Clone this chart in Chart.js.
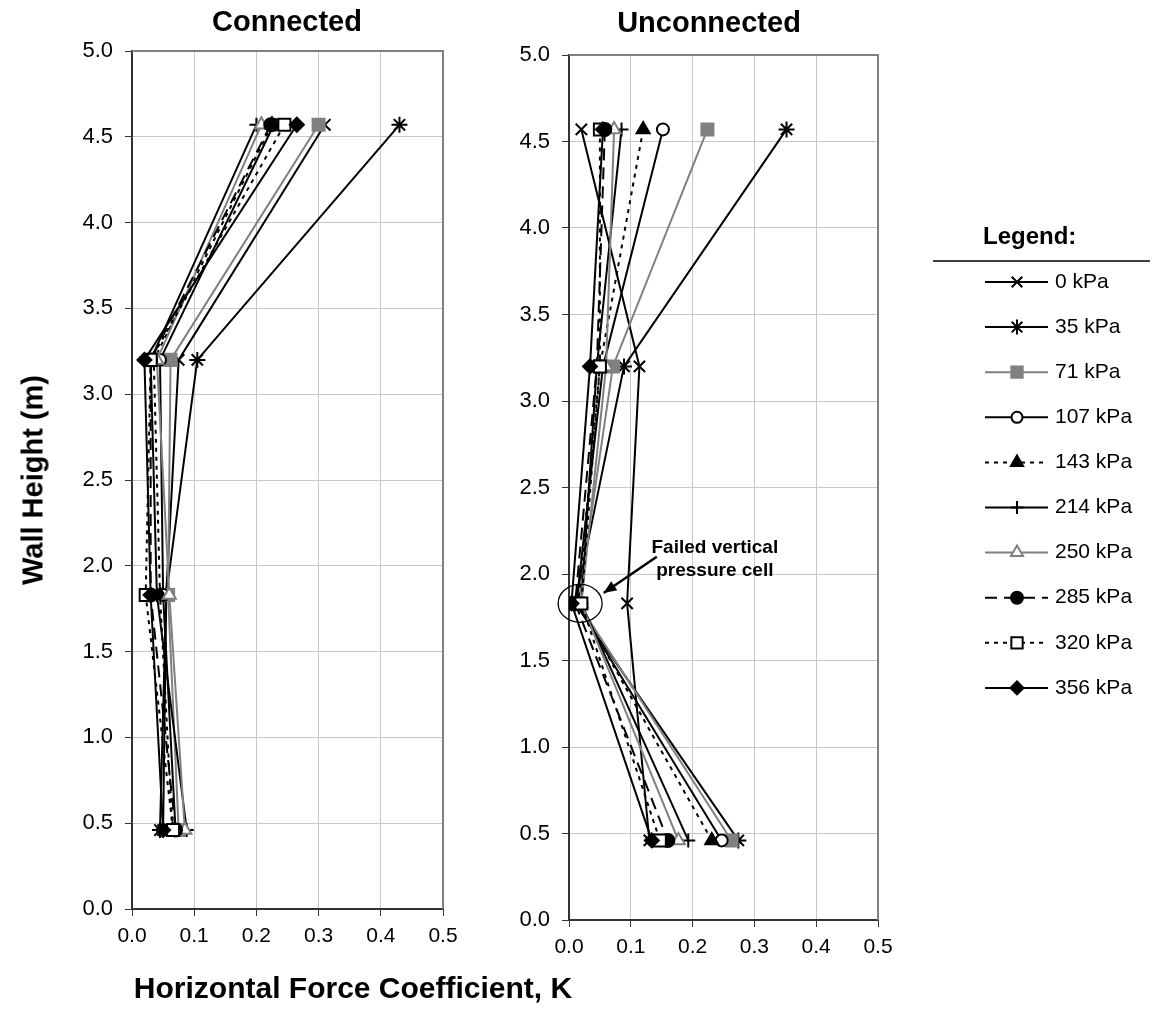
<!DOCTYPE html>
<html>
<head>
<meta charset="utf-8">
<script src="https://cdn.jsdelivr.net/npm/chart.js@4.4.1/dist/chart.umd.min.js"></script>
<style>
  body { margin: 0; background: #fff; }
  #wrap { position: relative; width: 1155px; height: 1021px; overflow: hidden; font-family: "Liberation Sans", Arial, sans-serif; }
  canvas { position: absolute; left: 0; top: 0; }
  .lbl { position: absolute; font-weight: bold; color: #000; white-space: nowrap; transform: translate(-50%, -50%); }
</style>
</head>
<body>
<div id="wrap">
  <canvas id="leftChart" width="1155" height="1021"></canvas>
  <canvas id="rightChart" width="1155" height="1021"></canvas>
  <div class="lbl" style="left:287px; top:21px; font-size:29px;">Connected</div>
  <div class="lbl" style="left:709px; top:22px; font-size:29px;">Unconnected</div>
  <div class="lbl" style="left:33px; top:480px; font-size:29px; transform: translate(-50%, -50%) rotate(-90deg);">Wall Height (m)</div>
  <div class="lbl" style="left:353px; top:988px; font-size:30px;">Horizontal Force Coefficient, K</div>
</div>
<script>
// Wall heights of the pressure cells (m)
const heights = [4.57, 3.2, 1.83, 0.46];
const pressures = ['0 kPa', '35 kPa', '71 kPa', '107 kPa', '143 kPa', '214 kPa', '250 kPa', '285 kPa', '320 kPa', '356 kPa'];

// Connected wall: K at each height
const conn0   = [0.31, 0.075, 0.055, 0.05];
const conn35  = [0.43, 0.105, 0.055, 0.045];
const conn71  = [0.30, 0.062, 0.058, 0.075];
const conn107 = [0.228, 0.045, 0.05, 0.07];
const conn143 = [0.225, 0.035, 0.045, 0.065];
const conn214 = [0.20, 0.03, 0.04, 0.088];
const conn250 = [0.208, 0.04, 0.06, 0.085];
const conn285 = [0.223, 0.03, 0.03, 0.07];
const conn320 = [0.245, 0.03, 0.022, 0.066];
const conn356 = [0.265, 0.02, 0.03, 0.05];

// Unconnected wall: K at each height
const unconn0   = [0.02, 0.114, 0.094, 0.13];
const unconn35  = [0.352, 0.089, 0.01, 0.274];
const unconn71  = [0.224, 0.071, 0.015, 0.263];
const unconn107 = [0.152, 0.055, 0.012, 0.247];
const unconn143 = [0.12, 0.05, 0.015, 0.231];
const unconn214 = [0.085, 0.045, 0.02, 0.193];
const unconn250 = [0.073, 0.06, 0.02, 0.177];
const unconn285 = [0.058, 0.045, 0.01, 0.16];
const unconn320 = [0.05, 0.05, 0.02, 0.147];
const unconn356 = [0.055, 0.034, 0.004, 0.134];

const xTicks = [0, 0.1, 0.2, 0.3, 0.4, 0.5];

// line / marker look for each pressure
const styles = [
  { color: '#000', dash: [], point: 'crossRot', r: 8, fill: '#000' },
  { color: '#000', dash: [], point: 'star', r: 8, fill: '#000' },
  { color: '#808080', dash: [], point: 'rect', r: 8.5, fill: '#808080' },
  { color: '#000', dash: [], point: 'circle', r: 6, fill: '#fff' },
  { color: '#000', dash: [4, 5], point: 'triangle', r: 7.5, fill: '#000' },
  { color: '#000', dash: [], point: 'cross', r: 7, fill: '#000' },
  { color: '#808080', dash: [], point: 'triangle', r: 7.5, fill: '#fff' },
  { color: '#000', dash: [12, 7], point: 'circle', r: 6.5, fill: '#000' },
  { color: '#000', dash: [4, 5], point: 'rect', r: 8.5, fill: '#fff' },
  { color: '#000', dash: [], point: 'rectRot', r: 7, fill: '#000' }
];

const connected = [conn0, conn35, conn71, conn107, conn143, conn214, conn250, conn285, conn320, conn356];
const unconnected = [unconn0, unconn35, unconn71, unconn107, unconn143, unconn214, unconn250, unconn285, unconn320, unconn356];

function makeDatasets(series) {
  return series.map((vals, i) => {
    const s = styles[i];
    return {
      label: pressures[i],
      data: vals.map((v, j) => ({ x: v, y: heights[j] })),
      showLine: true,
      order: series.length - i,
      borderColor: s.color,
      backgroundColor: s.fill,
      borderWidth: 2,
      borderDash: s.dash,
      pointStyle: s.point,
      pointRadius: s.r,
      pointBorderColor: s.color,
      pointBackgroundColor: s.fill,
      pointBorderWidth: 2,
      tension: 0
    };
  });
}

const frame = {
  id: 'frame',
  afterDraw(chart) {
    const a = chart.chartArea, ctx = chart.ctx;
    ctx.save();
    ctx.strokeStyle = '#808080';
    ctx.lineWidth = 2;
    ctx.beginPath();
    ctx.moveTo(a.left, a.top);
    ctx.lineTo(a.right, a.top);
    ctx.lineTo(a.right, a.bottom);
    ctx.stroke();
    ctx.restore();
  }
};

function axes(yW, xH) {
  return {
    x: {
      type: 'linear', min: 0, max: 0.5,
      afterBuildTicks: s => { s.ticks = xTicks.map(v => ({ value: v })); },
      afterFit: s => { s.height = xH; },
      ticks: { color: '#000', font: { size: 21, family: 'Liberation Sans' }, padding: 8, callback: v => v.toFixed(1), maxRotation: 0 },
      grid: { color: '#c8c8c8', lineWidth: 1, tickColor: '#333', tickLength: 7 },
      border: { color: '#333', width: 2 }
    },
    y: {
      type: 'linear', min: 0, max: 5,
      ticks: { stepSize: 0.5, color: '#000', font: { size: 22, family: 'Liberation Sans' }, padding: 12, callback: v => v.toFixed(1) },
      afterFit: s => { s.width = yW; },
      grid: { color: '#c8c8c8', lineWidth: 1, tickColor: '#333', tickLength: 7 },
      border: { color: '#333', width: 2 }
    }
  };
}

// Left chart: Connected
new Chart(document.getElementById('leftChart').getContext('2d'), {
  type: 'scatter',
  data: { datasets: makeDatasets(connected) },
  options: {
    responsive: false, animation: false,
    layout: { padding: { left: 72, right: 1155 - 443, top: 51, bottom: 0 } },
    scales: axes(60, 1021 - 909),
    plugins: { legend: { display: false }, tooltip: { enabled: false } }
  },
  plugins: [frame]
});

// legend and annotation drawn on the right chart
const extras = {
  id: 'extras',
  afterDraw(chart) {
    const ctx = chart.ctx;
    const xs = chart.scales.x, ys = chart.scales.y;
    ctx.save();
    // annotation: failed cell
    const cx = xs.getPixelForValue(0.018), cy = ys.getPixelForValue(1.83);
    ctx.strokeStyle = '#000';
    ctx.lineWidth = 1.3;
    ctx.setLineDash([]);
    ctx.beginPath();
    ctx.ellipse(cx, cy, 22, 19, 0, 0, Math.PI * 2);
    ctx.stroke();
    const ax0 = xs.getPixelForValue(0.142), ay0 = ys.getPixelForValue(2.10);
    const ax1 = xs.getPixelForValue(0.056), ay1 = ys.getPixelForValue(1.89);
    ctx.lineWidth = 2.5;
    ctx.beginPath(); ctx.moveTo(ax0, ay0); ctx.lineTo(ax1, ay1); ctx.stroke();
    const ang = Math.atan2(ay1 - ay0, ax1 - ax0);
    ctx.beginPath();
    ctx.moveTo(ax1, ay1);
    ctx.lineTo(ax1 - 14 * Math.cos(ang - 0.4), ay1 - 14 * Math.sin(ang - 0.4));
    ctx.lineTo(ax1 - 14 * Math.cos(ang + 0.4), ay1 - 14 * Math.sin(ang + 0.4));
    ctx.closePath(); ctx.fillStyle = '#000'; ctx.fill();
    ctx.font = 'bold 19px "Liberation Sans", Arial';
    ctx.textAlign = 'center'; ctx.textBaseline = 'middle';
    const tx = xs.getPixelForValue(0.236);
    ctx.fillText('Failed vertical', tx, ys.getPixelForValue(2.15));
    ctx.fillText('pressure cell', tx, ys.getPixelForValue(2.02));

    // legend
    ctx.font = 'bold 24px "Liberation Sans", Arial';
    ctx.textAlign = 'left';
    ctx.fillText('Legend:', 983, 237);
    ctx.lineWidth = 1.5;
    ctx.beginPath(); ctx.moveTo(933, 261); ctx.lineTo(1150, 261); ctx.stroke();
    ctx.font = '21px "Liberation Sans", Arial';
    chart.data.datasets.forEach((ds, i) => {
      const y = 282 + i * 45.1;
      ctx.strokeStyle = ds.borderColor;
      ctx.lineWidth = ds.borderWidth;
      ctx.setLineDash(ds.borderDash);
      ctx.beginPath(); ctx.moveTo(985, y); ctx.lineTo(1048, y); ctx.stroke();
      ctx.setLineDash([]);
      ctx.fillStyle = ds.pointBackgroundColor;
      ctx.lineWidth = ds.pointBorderWidth;
      Chart.helpers.drawPoint(ctx, { pointStyle: ds.pointStyle, radius: ds.pointRadius - 0.5, rotation: 0, borderWidth: ds.pointBorderWidth }, 1017, y);
      ctx.fillStyle = '#000';
      ctx.fillText(ds.label, 1055, y);
    });
    ctx.restore();
  }
};

// Right chart: Unconnected
new Chart(document.getElementById('rightChart').getContext('2d'), {
  type: 'scatter',
  data: { datasets: makeDatasets(unconnected) },
  options: {
    responsive: false, animation: false,
    layout: { padding: { left: 509, right: 1155 - 878, top: 55, bottom: 0 } },
    scales: axes(60, 1021 - 920),
    plugins: { legend: { display: false }, tooltip: { enabled: false } }
  },
  plugins: [frame, extras]
});
</script>
</body>
</html>
